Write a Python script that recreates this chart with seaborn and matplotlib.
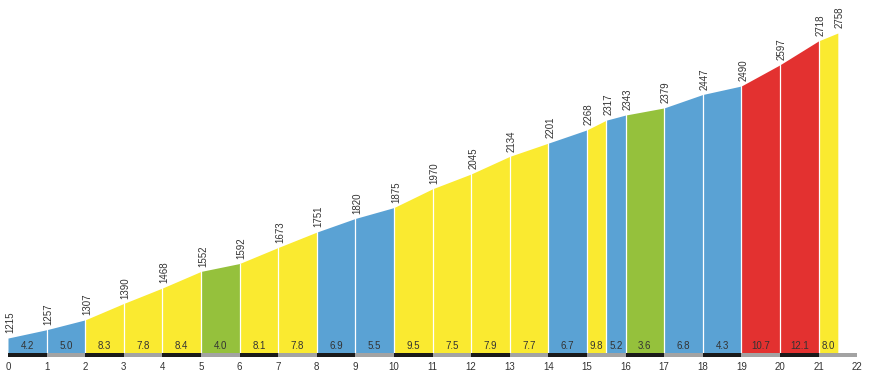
import matplotlib
matplotlib.use("Agg")
import matplotlib.pyplot as plt
import seaborn as sns
import numpy as np

# Data
dist_km = [0, 1, 2, 3, 4, 5, 6, 7, 8, 9, 10, 11, 12, 13, 14, 15, 15.5, 16, 17, 18, 19, 20, 21, 21.5]
elev_m = [1215, 1257, 1307, 1390, 1468, 1552, 1592, 1673, 1751, 1820, 1875, 1970, 2045,
          2134, 2201, 2268, 2317, 2343, 2379, 2447, 2490, 2597, 2718, 2758]
grade_pct = [4.2, 5.0, 8.3, 7.8, 8.4, 4.0, 8.1, 7.8, 6.9, 5.5, 9.5, 7.5, 7.9, 7.7, 6.7,
             9.8, 5.2, 3.6, 6.8, 4.3, 10.7, 12.1, 8.0]
km_ticks = list(range(0, 23))

# Styling
COL_GREEN = "#95C13C"
COL_BLUE = "#5AA2D4"
COL_YELLOW = "#FAEA30"
COL_RED = "#E33130"

def grade_color(g):
    if g <= 4.0:
        return COL_GREEN
    if g < 7.0:
        return COL_BLUE
    if g < 10.0:
        return COL_YELLOW
    return COL_RED

sns.set_theme(style="white")
plt.rcParams['font.family'] = ['Liberation Sans', 'DejaVu Sans']

fig = plt.figure(figsize=(8.71, 3.76), dpi=100)
ax = fig.add_axes([0, 0, 1, 1])
ax.set_xlim(-0.207, 22.36)
ax.set_ylim(1023, 2925)
ax.axis("off")

base = 1141
for i in range(len(grade_pct)):
    x0, x1 = dist_km[i], dist_km[i + 1]
    ax.fill_between([x0, x1], [elev_m[i], elev_m[i + 1]], base,
                    color=grade_color(grade_pct[i]), linewidth=0, zorder=1)
    ax.text((x0 + x1) / 2, 1177, f"{grade_pct[i]:.1f}", ha="center", va="center",
            fontsize=7, color="#333333", zorder=4)

# white separators
for i in range(1, len(dist_km) - 1):
    ax.plot([dist_km[i], dist_km[i]], [base, elev_m[i]], color="white", lw=0.9, zorder=2)

# elevation labels
for x, e in zip(dist_km, elev_m):
    ax.text(x + 0.05, e + 24, f"{e}", rotation=90, ha="center", va="bottom",
            fontsize=7, color="#333333", zorder=4)

# km bar
for k in range(22):
    ax.fill_between([k, k + 1], 1121, 1139, color="#1a1a1a" if k % 2 == 0 else "#a3a3a3",
                    linewidth=0, zorder=3)

# km tick labels
for k in km_ticks:
    ax.text(k, 1066, str(k), ha="center", va="center", fontsize=7, color="#333333")

fig.savefig("out.png", dpi=100)
